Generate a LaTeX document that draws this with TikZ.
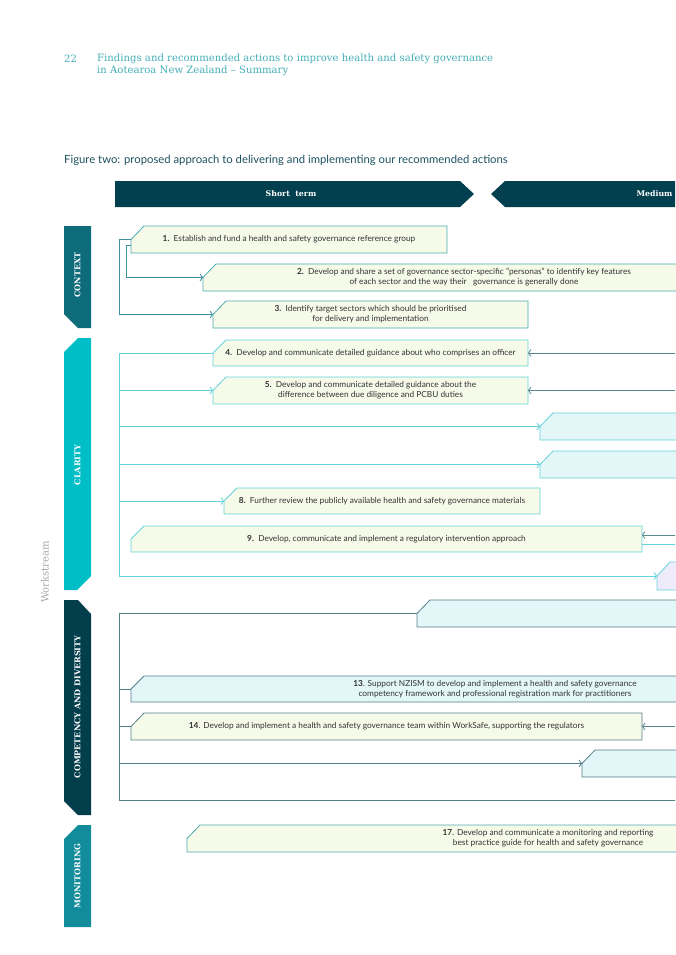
\documentclass[tikz,border=0pt]{standalone}
\usepackage{fontspec}
\setsansfont{Lato}
\newfontfamily\serifhead{DejaVu Serif}
\usetikzlibrary{arrows.meta}
\pgfdeclarelayer{background}
\pgfsetlayers{background,main}

\definecolor{bannerteal}{HTML}{02404F}
\definecolor{ctxteal}{HTML}{0E6C7A}
\definecolor{claritycyan}{HTML}{00BEC6}
\definecolor{compdark}{HTML}{033E4D}
\definecolor{monteal}{HTML}{128C9B}
\definecolor{headteal}{HTML}{45AEB8}
\definecolor{captionteal}{HTML}{1D5160}
\definecolor{shortfill}{HTML}{F6FAE9}
\definecolor{mediumfill}{HTML}{E3F6F8}
\definecolor{lavfill}{HTML}{EEEBFB}
\definecolor{ctxline}{HTML}{3E929D}
\definecolor{ctxborder}{HTML}{4EAAB4}
\definecolor{clarityline}{HTML}{63D3D9}
\definecolor{compline}{HTML}{557F8A}
\definecolor{inline}{HTML}{5C8790}
\definecolor{boxtext}{HTML}{333333}

\tikzset{
  action/.style={rectangle, inner sep=0pt, outer sep=0pt, align=center,
    text=boxtext, font=\sffamily\fontsize{8.3}{10}\selectfont},
  flow/.style={line width=0.8pt, -{Straight Barb[length=2.5pt,width=7pt]}},
  link/.style={line width=0.8pt},
  tab/.style={rotate=90, text=white, font=\serifhead\bfseries\fontsize{8}{8}\selectfont},
}

\begin{document}
\begin{tikzpicture}[x=1pt, y=-1pt]
\useasboundingbox (0,0) rectangle (675,955);
\clip (0,0) rectangle (675,955);

% header and caption
\node[anchor=base west, inner sep=0pt, text=headteal, font=\serifhead\fontsize{10.1}{12}\selectfont] (pagenum) at (64,63) {22};
\node[anchor=north west, inner sep=0pt, align=left, text=headteal, font=\serifhead\fontsize{10.1}{12}\selectfont] (title) at (97,54)
  {Findings and recommended actions to improve health and safety governance\\in Aotearoa New Zealand – Summary};
\node[anchor=west, inner sep=0pt, text=captionteal, font=\sffamily\fontsize{11.3}{13}\selectfont] (caption) at (64,160)
  {Figure two: proposed approach to delivering and implementing our recommended actions};

% time banner
\fill[bannerteal] (115,181) -- (460,181) -- (474,194) -- (460,207) -- (115,207) -- cycle;
\node[text=white, font=\serifhead\bfseries\fontsize{7.8}{8}\selectfont] (short) at (291,194) {Short\ \ term};
\fill[bannerteal] (491,194) -- (505,181) -- (680,181) -- (680,207) -- (505,207) -- cycle;
\node[anchor=east, text=white, font=\serifhead\bfseries\fontsize{7.8}{8}\selectfont] (medium) at (676,194) {Medium};

% workstream tabs
\node[rotate=90, text=gray!70, font=\serifhead\fontsize{10}{10}\selectfont] (workstream) at (45,572) {Workstream};
\fill[ctxteal] (64,226) -- (91,226) -- (91,328) -- (78,328) -- (64,314) -- cycle;
\node[tab] (context) at (77.5,275) {CONTEXT};
\fill[claritycyan] (64,352) -- (78,338) -- (91,338) -- (91,576) -- (77,590) -- (64,590) -- cycle;
\node[tab] (clarity) at (77.5,465) {CLARITY};
\fill[compdark] (64,600) -- (78,600) -- (91,614) -- (91,815) -- (78,815) -- (64,801) -- cycle;
\node[tab] (competency) at (77.5,707) {COMPETENCY AND DIVERSITY};
\fill[monteal] (64,839) -- (78,825) -- (91,825) -- (91,927) -- (64,927) -- cycle;
\node[tab] (monitoring) at (77.5,876) {MONITORING};

% context
\node[action, minimum width=316pt, minimum height=27pt] (b1) at (289,239.5)
  {\textbf{1.}\ \ Establish and fund a health and safety governance reference group};
\node[action, minimum width=522pt, minimum height=27pt] (b2) at (464,277.5)
  {\textbf{2.}\ \ Develop and share a set of governance sector-specific "personas" to identify key features\\of each sector and the way their\ \ \ governance is generally done};
\node[action, minimum width=315pt, minimum height=27pt] (b3) at (370.5,314.5)
  {\textbf{3.}\ \ Identify target sectors which should be prioritised\\for delivery and implementation};
\draw[flow, ctxline] (b1.west) -- ++(-12,0) |- (b3.west);
\draw[flow, ctxline] ([yshift=-6pt]b1.west) -- ++(-5,0) |- (b2.west);

% clarity
\node[action, minimum width=315pt, minimum height=26pt] (b4) at (370.5,353)
  {\textbf{4.}\ \ Develop and communicate detailed guidance about who comprises an officer};
\node[action, minimum width=315pt, minimum height=27pt] (b5) at (370.5,390.5)
  {\textbf{5.}\ \ Develop and communicate detailed guidance about the\\difference between due diligence and PCBU duties};
\node[action, minimum width=320pt, minimum height=27pt] (b6) at (700,426.5) {};
\node[action, minimum width=320pt, minimum height=27pt] (b7) at (700,464.5) {};
\node[action, minimum width=316pt, minimum height=26pt] (b8) at (382,501)
  {\textbf{8.}\ \ Further review the publicly available health and safety governance materials};
\node[action, minimum width=511pt, minimum height=26pt] (b9) at (386.5,539)
  {\textbf{9.}\ \ Develop, communicate and implement a regulatory intervention approach};
\node[action, minimum width=300pt, minimum height=28pt] (b10) at (807,576) {};
\coordinate (clarityspine) at (119,353);
\draw[flow, clarityline] (b4.west) -- (clarityspine) |- (b10.west);
\foreach \b in {b5,b6,b7,b8}
  \draw[flow, clarityline] (clarityspine |- \b.west) -- (\b.west);

% competency and diversity
\node[action, minimum width=480pt, minimum height=27pt] (b11) at (657,613.5) {};
\node[action, minimum width=728pt, minimum height=26pt] (b13) at (495,689)
  {\textbf{13}. Support NZISM to develop and implement a health and safety governance\\competency framework and professional registration mark for practitioners};
\node[action, minimum width=511pt, minimum height=27pt] (b14) at (386.5,726.5)
  {\textbf{14}. Develop and implement a health and safety governance team within WorkSafe, supporting the regulators};
\node[action, minimum width=320pt, minimum height=27pt] (b15) at (742,763.5) {};
\coordinate (compspine) at (119,613.5);
\coordinate (compend) at (680,800);
\draw[link, compline] (b11.west) -- (compspine) |- (compend);
\foreach \b in {b13,b14}
  \draw[link, compline] (compspine |- \b.west) -- (\b.west);
\draw[flow, compline] (compspine |- b15.west) -- (b15.west);

% monitoring
\node[action, minimum width=722pt, minimum height=27pt] (b17) at (548,838.5)
  {\textbf{17}. Develop and communicate a monitoring and reporting\\best practice guide for health and safety governance};

% links from the medium term
\coordinate (edge) at (680,0);
\foreach \b in {b4,b5,b14}
  \draw[flow, inline] (edge |- \b.east) -- (\b.east);
\coordinate (in9) at (680,535);
\coordinate (out9) at (680,544);
\draw[flow, inline] (in9) -- (in9 -| b9.east);
\draw[link, clarityline] (out9 -| b9.east) -- (out9);

% box outlines with the cut corner
\begin{pgfonlayer}{background}
\foreach \b/\f/\d in {b1/shortfill/ctxborder, b2/shortfill/ctxborder, b3/shortfill/ctxborder,
    b4/shortfill/clarityline, b5/shortfill/clarityline, b6/mediumfill/clarityline,
    b7/mediumfill/clarityline, b8/shortfill/clarityline, b9/shortfill/clarityline,
    b10/lavfill/clarityline, b11/mediumfill/compline, b13/mediumfill/compline,
    b14/shortfill/compline, b15/mediumfill/compline, b17/shortfill/ctxborder}
  \filldraw[line width=0.8pt, fill=\f, draw=\d] (\b.west) -- ([xshift=13pt]\b.north west)
    -- (\b.north east) -- (\b.south east) -- (\b.south west) -- cycle;
\end{pgfonlayer}
\end{tikzpicture}
\end{document}
